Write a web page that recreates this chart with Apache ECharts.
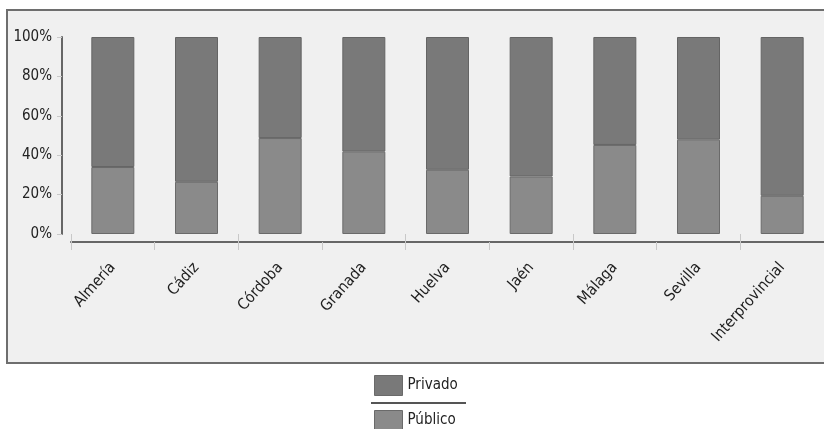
<!DOCTYPE html>
<html>
<head>
<meta charset="utf-8">
<script src="https://cdn.jsdelivr.net/npm/echarts@6/dist/echarts.min.js"></script>
<style>
html,body{margin:0;padding:0;background:#fff;}
#c{width:824px;height:429px;}
</style>
</head>
<body>
<div id="c"></div>
<script>
const categories = ['Almería','Cádiz','Córdoba','Granada','Huelva','Jaén','Málaga','Sevilla','Interprovincial'];
const publico = [34.0, 26.5, 48.7, 41.8, 32.6, 29.2, 45.2, 47.9, 19.4];
const privado = [66.0, 73.5, 51.3, 58.2, 67.4, 70.8, 54.8, 52.1, 80.6];
const yTicks = [0, 20, 40, 60, 80, 100];

const FONT = '"DejaVu Sans Condensed", "DejaVu Sans", sans-serif';
const chart = echarts.init(document.getElementById('c'), null, {renderer:'canvas'});
const gridLeft = 71, gridWidth = 758;
const legendCommon = {
  orient:'vertical', itemWidth:28, itemHeight:20, icon:'rect', selectedMode:false,
  textStyle:{fontFamily:FONT, fontSize:15, color:'#222'},
  itemStyle:{borderColor:'#6a6a6a', borderWidth:1}
};
chart.setOption({
  backgroundColor: '#ffffff',
  animation: false,
  graphic: [
    {type:'rect', z:-10, silent:true, shape:{x:7, y:10, width:830, height:353},
     style:{fill:'#f0f0f0', stroke:'#6e6e6e', lineWidth:2}},
    {type:'line', z:10, silent:true, shape:{x1:371, y1:403, x2:466, y2:403},
     style:{stroke:'#555', lineWidth:2}}
  ],
  legend: [
    Object.assign({left:369, top:370, data:['Privado']}, legendCommon),
    Object.assign({left:369, top:405, data:['Público']}, legendCommon)
  ],
  grid: [
    {left:gridLeft, width:gridWidth, top:37, height:197},
    {left:gridLeft, width:gridWidth, top:200, height:42}
  ],
  xAxis: [
    {type:'category', gridIndex:0, data:categories, show:false},
    {type:'category', gridIndex:1, data:categories,
     axisLine:{show:true, lineStyle:{color:'#666', width:2}},
     axisTick:{show:true, length:8, lineStyle:{color:'#c8c8c8', width:1}},
     axisLabel:{rotate:48, margin:23, fontFamily:FONT, fontSize:15.5, color:'#1e1e1e'}},
    {type:'category', gridIndex:1, data:categories, position:'bottom',
     axisLine:{show:false},
     axisTick:{show:true, inside:true, length:8, lineStyle:{color:'#c8c8c8', width:1}},
     axisLabel:{show:false}}
  ],
  yAxis: [
    {type:'value', gridIndex:0, min:0, max:100, interval:20, offset:9,
     axisLine:{show:true, lineStyle:{color:'#666', width:2}},
     axisTick:{show:true, length:5, lineStyle:{color:'#c8c8c8'}},
     axisLabel:{formatter: v => yTicks.includes(v) ? v + '%' : '', margin:10,
                fontFamily:FONT, fontSize:15, color:'#222'},
     splitLine:{show:false}},
    {type:'value', gridIndex:0, min:0, max:100, interval:20, offset:9,
     axisLine:{show:false},
     axisTick:{show:true, inside:true, length:6, lineStyle:{color:'#c8c8c8'}},
     axisLabel:{show:false}, splitLine:{show:false}},
    {type:'value', gridIndex:1, show:false}
  ],
  series: [
    {name:'Público', type:'bar', stack:'t', xAxisIndex:0, yAxisIndex:0, data:publico, barWidth:43,
     itemStyle:{color:'#8a8a8a', borderColor:'#6a6a6a', borderWidth:1}},
    {name:'Privado', type:'bar', stack:'t', xAxisIndex:0, yAxisIndex:0, data:privado, barWidth:43,
     itemStyle:{color:'#797979', borderColor:'#646464', borderWidth:1}}
  ]
});
</script>
</body>
</html>
